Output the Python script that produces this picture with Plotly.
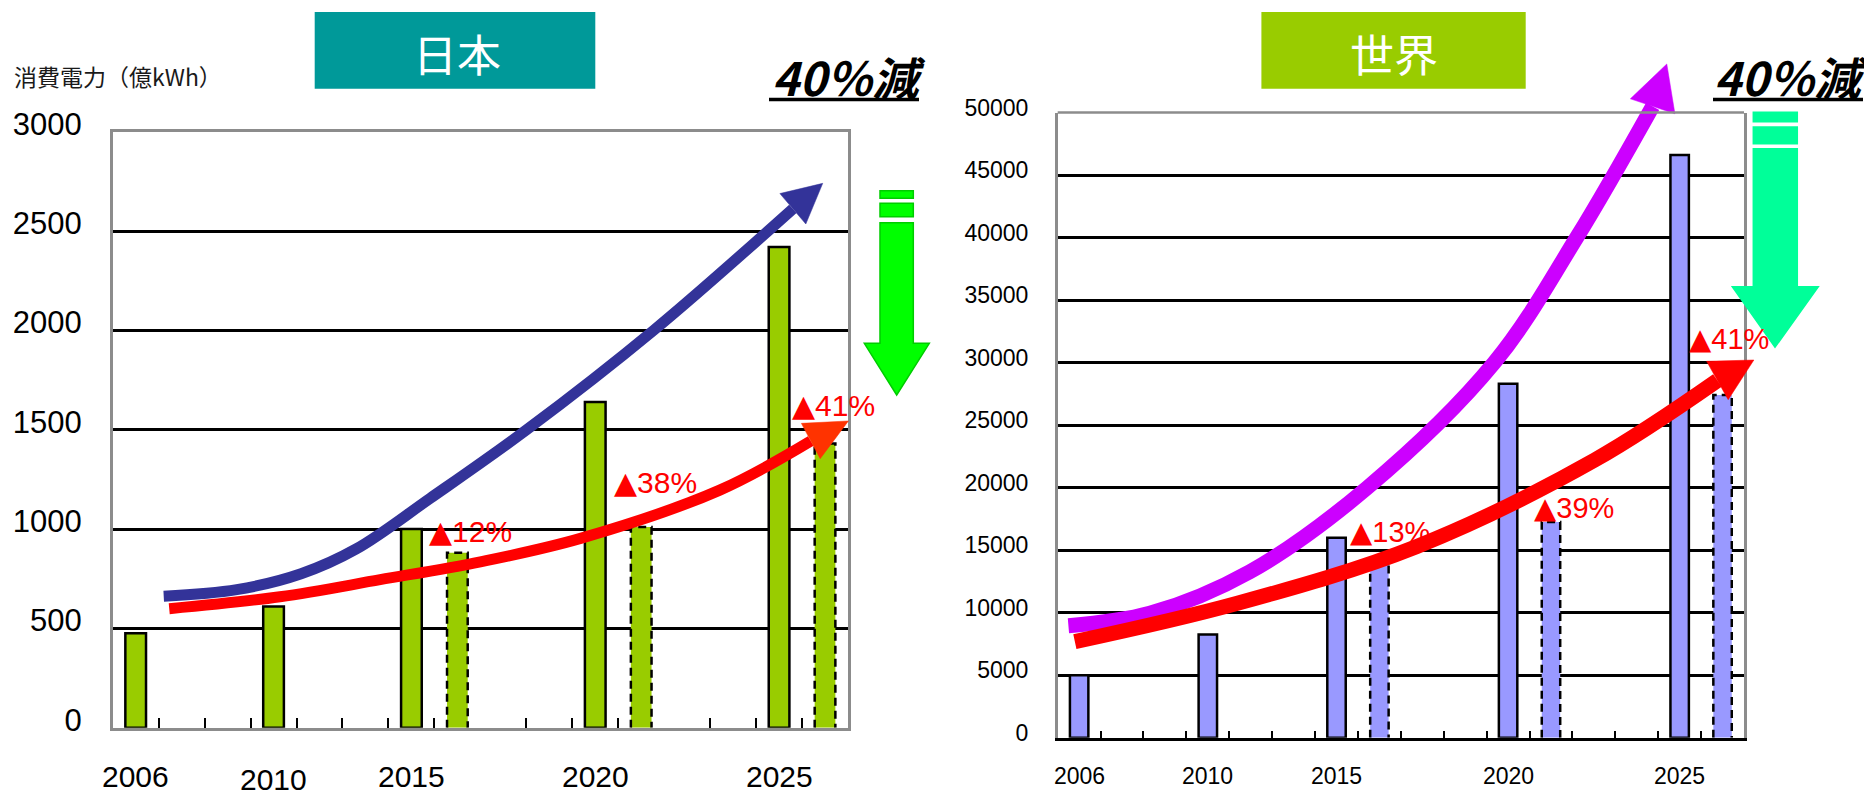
import plotly.graph_objects as go

W, H = 1872, 795

# ---------------- data ----------------
years = [2006, 2010, 2015, 2020, 2025]
saving_years = [2015, 2020, 2025]

japan_bau = [475, 610, 1000, 1640, 2420]
japan_saved = [880, 1010, 1430]
japan_cut = ["12%", "38%", "41%"]

world_bau = [5000, 8250, 16000, 28300, 46600]
world_saved = [13950, 17250, 27400]
world_cut = ["13%", "39%", "41%"]

japan_yticks = [0, 500, 1000, 1500, 2000, 2500, 3000]
world_yticks = [0, 5000, 10000, 15000, 20000, 25000, 30000, 35000, 40000, 45000, 50000]

# trend arrows (x in bar-slot units, y in 億kWh)
japan_bau_trend_x = [0.61, 2.2, 3.6, 4.8, 6.41, 8.51, 11.27, 14.3]
japan_bau_trend_y = [662, 695, 775, 900, 1155, 1500, 2000, 2612]
japan_bau_tip = (14.95, 2740)
japan_eff_trend_x = [0.73, 3.14, 5.32, 7.5, 9.68, 12.71, 14.69]
japan_eff_trend_y = [599, 659, 745, 835, 953, 1196, 1443]
japan_eff_tip = (15.51, 1544)

world_bau_trend_x = [-0.25, 1.65, 3.98, 6.72, 9.68, 11.6, 13.37]
world_bau_trend_y = [8957, 9950, 13276, 20000, 30000, 40000, 50496]
world_bau_tip = (13.7, 53880)
world_eff_trend_x = [-0.1, 3.69, 7.86, 12.02, 14.88]
world_eff_trend_y = [7678, 10749, 15275, 22209, 28567]
world_eff_tip = (15.73, 30206)

# label anchors for the reduction percentages (data coords)
japan_cut_pos = [(6.34, 986), (10.36, 1232), (14.24, 1624)]
world_cut_pos = [(6.26, 16475), (10.56, 18410), (14.17, 31886)]

# ---------------- layout geometry ----------------
OFF = 8  # page offset of the figure inside the browser (body margin)
year_slot = {2006: 0, 2010: 3, 2015: 6, 2020: 10, 2025: 14}
N_SLOTS = 16
XR = [-0.5, N_SLOTS - 0.5]
japan_tick_slots = [k - 0.5 for k in [1, 2, 3, 4, 5, 6, 7, 9, 10, 11, 13, 14, 15]]
world_tick_slots = [k - 0.5 for k in range(1, 16)]

# screen pixel geometry of the two plot frames
JP = dict(l=112.7, r=848.0, t=131.7, b=727.7, ymax=3000)
WD = dict(l=1057.7, r=1744.0, t=112.5, b=737.7, ymax=50000)

FONT_NUM = "Liberation Sans, Arial, sans-serif"
FONT_JP = "Noto Sans CJK JP, sans-serif"


def px_x(v):
    return (v - OFF) / W


def px_y(v):
    return 1 - (v - OFF) / H


def dom_x(p):
    return [px_x(p['l']), px_x(p['r'])]


def dom_y(p):
    return [px_y(p['b']), px_y(p['t'])]


def scales(p):
    sx = (p['r'] - p['l']) / (XR[1] - XR[0])
    sy = (p['b'] - p['t']) / p['ymax']
    return sx, sy


def overlay_ranges(p):
    l, r, t, b = p['l'] - OFF, p['r'] - OFF, p['t'] - OFF, p['b'] - OFF
    ux = (XR[1] - XR[0]) / (r - l)
    uy = p['ymax'] / (b - t)
    xr = [XR[0] - l * ux, XR[1] + (W - r) * ux]
    yr = [-(H - b) * uy, p['ymax'] + t * uy]
    return xr, yr


def arrow_head(base, tip, width_px, p):
    sx, sy = scales(p)
    bx, by = base[0] * sx, base[1] * sy
    tx, ty = tip[0] * sx, tip[1] * sy
    dx, dy = tx - bx, ty - by
    L = (dx * dx + dy * dy) ** 0.5
    nx, ny = -dy / L, dx / L
    h = width_px / 2
    pts = [(bx + nx * h, by + ny * h), (tx, ty), (bx - nx * h, by - ny * h)]
    pts.append(pts[0])
    return [q[0] / sx for q in pts], [q[1] / sy for q in pts]


def dashed_outline(xs, vals, w):
    ox, oy = [], []
    for x, v in zip(xs, vals):
        ox += [x - w / 2, x - w / 2, x + w / 2, x + w / 2, None]
        oy += [0, v, v, 0, None]
    return ox, oy


fig = go.Figure()


def add_panel(bau, saved, color, bw, xa, ya):
    xs = [year_slot[y] for y in years]
    xs2 = [year_slot[y] + 1 for y in saving_years]
    fig.add_trace(go.Bar(x=xs, y=bau, width=bw, xaxis=xa, yaxis=ya,
                         marker=dict(color=color, line=dict(color='black', width=2.5)),
                         showlegend=False, hoverinfo='skip'))
    fig.add_trace(go.Bar(x=xs2, y=saved, width=bw, xaxis=xa, yaxis=ya,
                         marker=dict(color=color, line=dict(width=0)),
                         showlegend=False, hoverinfo='skip'))
    ox, oy = dashed_outline(xs2, saved, bw)
    fig.add_trace(go.Scatter(x=ox, y=oy, mode='lines', xaxis=xa, yaxis=ya,
                             line=dict(color='black', width=2.5, dash='8px,5px'),
                             showlegend=False, hoverinfo='skip'))


add_panel(japan_bau, japan_saved, '#99CC00', 0.45, 'x', 'y')
add_panel(world_bau, world_saved, '#9999FF', 0.43, 'x2', 'y2')


def add_arrow(p, tx, ty, tip, color, head_color, lw, head_w, xa, ya):
    fig.add_trace(go.Scatter(x=tx, y=ty, mode='lines', xaxis=xa, yaxis=ya,
                             line=dict(color=color, width=lw, shape='spline', smoothing=1),
                             showlegend=False, hoverinfo='skip'))
    hx, hy = arrow_head((tx[-1], ty[-1]), tip, head_w, p)
    fig.add_trace(go.Scatter(x=hx, y=hy, mode='lines', fill='toself', xaxis=xa, yaxis=ya,
                             fillcolor=head_color, line=dict(color=head_color, width=0.5),
                             showlegend=False, hoverinfo='skip'))


add_arrow(JP, japan_bau_trend_x, japan_bau_trend_y, japan_bau_tip, '#333399', '#333399', 11, 40, 'x3', 'y3')
add_arrow(JP, japan_eff_trend_x, japan_eff_trend_y, japan_eff_tip, '#FF0000', '#FF3300', 11, 40, 'x3', 'y3')
add_arrow(WD, world_bau_trend_x, world_bau_trend_y, world_bau_tip, '#CC00FF', '#CC00FF', 15, 47, 'x4', 'y4')
add_arrow(WD, world_eff_trend_x, world_eff_trend_y, world_eff_tip, '#FF0000', '#FF0000', 15, 44, 'x4', 'y4')

jx3, jy3 = overlay_ranges(JP)
wx4, wy4 = overlay_ranges(WD)

GRAY = '#8c8c8c'
fig.update_layout(
    width=W, height=H, margin=dict(l=0, r=0, t=0, b=0, pad=0, autoexpand=False), autosize=False,
    paper_bgcolor='white', plot_bgcolor='rgba(0,0,0,0)', barmode='overlay',
    showlegend=False,
    xaxis=dict(domain=dom_x(JP), range=XR, anchor='y', tickvals=japan_tick_slots,
               ticks='inside', ticklen=10, tickwidth=2, tickcolor='black',
               showticklabels=False, showgrid=False, zeroline=False,
               showline=True, linecolor=GRAY, linewidth=2.5, mirror=True),
    yaxis=dict(domain=dom_y(JP), range=[0, JP['ymax']], anchor='x', tickvals=japan_yticks,
               ticktext=[str(v) for v in japan_yticks], ticks='',
               showgrid=True, gridcolor='black', gridwidth=3, zeroline=False,
               showline=True, linecolor=GRAY, linewidth=2.5, mirror=True,
               tickfont=dict(family=FONT_NUM, size=31, color='black'),
               ticklabelshift=-8, ticklabelstandoff=22),
    xaxis2=dict(domain=dom_x(WD), range=XR, anchor='y2', tickvals=world_tick_slots,
                ticks='inside', ticklen=7, tickwidth=2, tickcolor='black',
                showticklabels=False, showgrid=False, zeroline=False,
                showline=True, linecolor='black', linewidth=3, mirror=False),
    yaxis2=dict(domain=dom_y(WD), range=[0, WD['ymax']], anchor='x2', tickvals=world_yticks,
                ticktext=[str(v) for v in world_yticks], ticks='',
                showgrid=True, gridcolor='black', gridwidth=2.5, zeroline=False,
                showline=True, linecolor=GRAY, linewidth=2.5, mirror=True,
                tickfont=dict(family=FONT_NUM, size=23, color='black'),
                ticklabelshift=-5, ticklabelstandoff=22),
    xaxis3=dict(domain=[0, 1], range=jx3, anchor='y3', visible=False),
    yaxis3=dict(domain=[0, 1], range=jy3, anchor='x3', visible=False),
    xaxis4=dict(domain=[0, 1], range=wx4, anchor='y4', visible=False),
    yaxis4=dict(domain=[0, 1], range=wy4, anchor='x4', visible=False),
)

shapes = []
annos = []

# world frame top edge
shapes.append(dict(type='line', xref='x2 domain', yref='y2 domain', x0=0, x1=1, y0=1, y1=1,
                   line=dict(color=GRAY, width=2.5)))

# title boxes
for (x0, x1, col, txt, cx) in [(314.7, 595.3, '#009999', '日本', 457),
                              (1261.4, 1525.7, '#99CC00', '世界', 1394)]:
    shapes.append(dict(type='rect', xref='paper', yref='paper', x0=px_x(x0), x1=px_x(x1),
                       y0=px_y(88.7), y1=px_y(12), fillcolor=col, line=dict(width=0), layer='above'))
    annos.append(dict(text=txt, xref='paper', yref='paper', x=px_x(cx), y=px_y(53),
                      xanchor='center', yanchor='middle', showarrow=False,
                      font=dict(family=FONT_JP, size=44, color='white')))

# "40%減" with thick underline
for (cx, ux0, ux1) in [(848, 769, 919), (1790, 1713, 1863)]:
    annos.append(dict(text='<b><i>40％減</i></b>', xref='paper', yref='paper', x=px_x(cx), y=px_y(76),
                      xanchor='center', yanchor='middle', showarrow=False,
                      font=dict(family=FONT_JP, size=46, color='black')))
    shapes.append(dict(type='line', xref='paper', yref='paper', x0=px_x(ux0), x1=px_x(ux1),
                       y0=px_y(99.5), y1=px_y(99.5), line=dict(color='black', width=3.5)))


def poly_path(pts):
    return 'M' + 'L'.join(f'{px_x(a):.5f},{px_y(b):.5f}' for a, b in pts) + 'Z'


def rect_pts(x0, x1, y0, y1):
    return [(x0, y0), (x1, y0), (x1, y1), (x0, y1)]


# green "decrease" arrows
for (sx0, sx1, hx0, hx1, b1, b2, top, hb, tip, fill, edge) in [
        (880, 913.3, 864.3, 929.3, (190.7, 198.3), (203.3, 216.7), 222.7, 343.3, (896.7, 395), '#00FF00', '#00CC00'),
        (1753.3, 1797.3, 1732.3, 1818.3, (112.3, 121.7), (127, 143.7), 148.7, 286.7, (1775, 347.3), '#00FF99', '#00FF99')]:
    for (ya, yb) in [b1, b2]:
        shapes.append(dict(type='path', xref='paper', yref='paper', path=poly_path(rect_pts(sx0, sx1, ya, yb)),
                           fillcolor=fill, line=dict(color=edge, width=1.5), layer='above'))
    body = [(sx0, top), (sx1, top), (sx1, hb), (hx1, hb), tip, (hx0, hb), (sx0, hb)]
    shapes.append(dict(type='path', xref='paper', yref='paper', path=poly_path(body),
                       fillcolor=fill, line=dict(color=edge, width=1.5), layer='above'))

# y-axis title
annos.append(dict(text='消費電力（億kWh）', xref='paper', yref='paper', x=px_x(12), y=px_y(76),
                  xanchor='left', yanchor='middle', showarrow=False,
                  font=dict(family=FONT_JP, size=23, color='#1a1a1a')))

# x labels
for y in years:
    annos.append(dict(text=str(y), xref='x', yref='paper', x=year_slot[y], y=px_y(779 if y == 2010 else 776),
                      xanchor='center', yanchor='middle', showarrow=False,
                      font=dict(family=FONT_NUM, size=30, color='black')))
    annos.append(dict(text=str(y), xref='x2', yref='paper', x=year_slot[y], y=px_y(776),
                      xanchor='center', yanchor='middle', showarrow=False,
                      font=dict(family=FONT_NUM, size=23, color='black')))

TRI = "<span style='font-family:DejaVu Sans'>▲</span>"
# reduction labels
for txt, (x, yv) in zip(japan_cut, japan_cut_pos):
    annos.append(dict(text=TRI + txt, xref='x', yref='y', x=x, y=yv, xanchor='left', yanchor='middle',
                      showarrow=False, font=dict(family=FONT_NUM, size=30, color='#FF0000')))
for txt, (x, yv) in zip(world_cut, world_cut_pos):
    annos.append(dict(text=TRI + txt, xref='x2', yref='y2', x=x, y=yv, xanchor='left', yanchor='middle',
                      showarrow=False, font=dict(family=FONT_NUM, size=29, color='#FF0000')))

fig.update_layout(shapes=shapes, annotations=annos)
fig.write_html("out.html")
